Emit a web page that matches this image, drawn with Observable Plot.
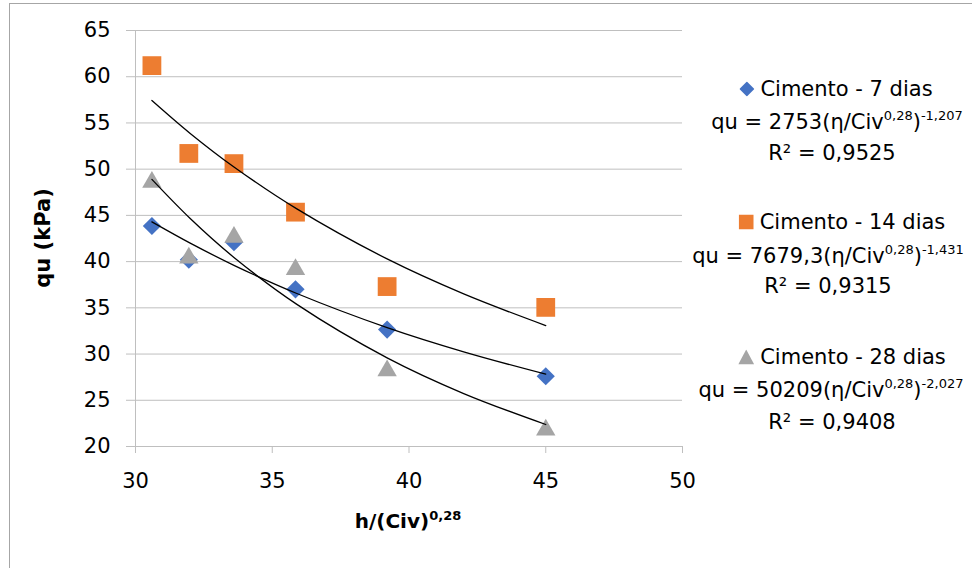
<!DOCTYPE html>
<html><head><meta charset="utf-8">
<script src="https://cdn.jsdelivr.net/npm/d3@7"></script>
<script src="https://cdn.jsdelivr.net/npm/@observablehq/plot@0.6"></script>
<style>
body{margin:0;background:#fff;font-family:"DejaVu Sans",sans-serif;}
#wrap{position:relative;width:972px;height:568px;overflow:hidden;background:#fff;}
#frame{position:absolute;left:9px;top:3px;width:1000px;height:600px;border:1px solid #a6a6a6;box-sizing:border-box;}
#chart{position:absolute;left:0;top:0;}
.lg{position:absolute;transform:translate(-50%,-50%);white-space:nowrap;font-size:21px;color:#000;line-height:1;}
.lg sup{font-size:13px;line-height:0;vertical-align:0.62em;}
.ttl{position:absolute;white-space:nowrap;font-weight:bold;font-size:20px;color:#000;line-height:1;}
.ttl sup{font-size:13px;line-height:0;vertical-align:0.62em;}
.mk{display:inline-block;vertical-align:-1px;margin-right:6px;}
</style>
</head><body>
<div id="wrap"><div id="frame"></div><div id="chart"></div></div>
<script>
// ---- data ----
const xValues = [30.6, 31.95, 33.6, 35.85, 39.2, 45.0];
const qu7  = [43.85, 40.2, 42.1, 37.0, 32.65, 27.6];
const qu14 = [61.2, 51.7, 50.6, 45.35, 37.3, 35.05];
const qu28 = [48.6, 40.4, 42.65, 39.15, 28.2, 21.8];
// trendline points
const fitX   = [30.6, 32, 33.6, 35.9, 39.2, 42, 45];
const fit7   = [44.3, 42.0, 39.6, 36.55, 32.86, 30.24, 27.82];
const fit14  = [57.43, 53.87, 50.24, 45.70, 40.29, 36.51, 33.08];
const fit28  = [48.89, 44.66, 40.45, 35.37, 29.59, 25.73, 22.38];
const seriesNames = ["Cimento - 7 dias", "Cimento - 14 dias", "Cimento - 28 dias"];
const equations = [
  ["2753", "-1,207", "0,9525"],
  ["7679,3", "-1,431", "0,9315"],
  ["50209", "-2,027", "0,9408"]
];
const xTicks = [30, 35, 40, 45, 50];
const yTicks = [20, 25, 30, 35, 40, 45, 50, 55, 60, 65];
const colors = ["#4472C4", "#ED7D31", "#A5A5A5"];

const pts = (ys, s) => xValues.map((x, i) => ({x, y: ys[i], s}));
const fit = (ys, s) => fitX.map((x, i) => ({x, y: ys[i], s}));
const grid = "#bfbfbf";

const plot = Plot.plot({
  width: 972, height: 568,
  marginLeft: 135, marginRight: 290, marginTop: 30, marginBottom: 122,
  style: {fontFamily: "DejaVu Sans", fontSize: "21px", color: "#000", background: "transparent", overflow: "visible"},
  x: {domain: [30, 50]},
  y: {domain: [20, 65]},
  marks: [
    Plot.ruleY(yTicks, {stroke: grid, strokeWidth: 1}),
    Plot.ruleX([30], {stroke: grid, strokeWidth: 1}),
    Plot.axisY({ticks: yTicks, tickSize: 9, tickPadding: 16, stroke: grid, label: null, fill: "#000", fontSize: 21}),
    Plot.axisX({ticks: xTicks, tickSize: 7, tickPadding: 20, stroke: grid, label: null, fill: "#000", fontSize: 21}),
    Plot.dot(pts(qu7, 0), {x: "x", y: "y", symbol: "diamond2", r: 8.2, fill: colors[0], stroke: null}),
    Plot.dot(pts(qu14, 1), {x: "x", y: "y", symbol: "square", r: 10.6, fill: colors[1], stroke: null}),
    Plot.dot(pts(qu28, 2), {x: "x", y: "y", symbol: "triangle", r: 7.2, fill: colors[2], stroke: null}),
    Plot.line(fit(fit14, 1), {x: "x", y: "y", stroke: "#000", strokeWidth: 1.3, curve: "catmull-rom"}),
    Plot.line(fit(fit7, 0), {x: "x", y: "y", stroke: "#000", strokeWidth: 1.3, curve: "catmull-rom"}),
    Plot.line(fit(fit28, 2), {x: "x", y: "y", stroke: "#000", strokeWidth: 1.3, curve: "catmull-rom"})
  ]
});
document.getElementById("chart").appendChild(plot);

const wrap = document.getElementById("wrap");
function add(html, cls, left, top, extra) {
  const d = document.createElement("div");
  d.className = cls; d.innerHTML = html;
  d.style.left = left + "px"; d.style.top = top + "px";
  if (extra) Object.assign(d.style, extra);
  wrap.appendChild(d);
}
const markers = [
  `<svg class="mk" width="15" height="15"><polygon points="7.5,0 15,7.5 7.5,15 0,7.5" fill="${colors[0]}"/></svg>`,
  `<svg class="mk" width="15" height="15"><rect x="0" y="0" width="15" height="15" fill="${colors[1]}"/></svg>`,
  `<svg class="mk" width="16" height="15"><polygon points="8,0 16,15 0,15" fill="${colors[2]}"/></svg>`
];
const rowY = [[89, 122, 153], [222, 256, 286], [357, 390, 422]];
const rowX = [[836, 837, 832], [842, 828, 828], [842, 831, 832]];
seriesNames.forEach((n, i) => {
  add(markers[i] + n, "lg", rowX[i][0], rowY[i][0]);
  add(`qu = ${equations[i][0]}(η/Civ<sup>0,28</sup>)<sup>${equations[i][1]}</sup>`, "lg", rowX[i][1], rowY[i][1]);
  add(`R² = ${equations[i][2]}`, "lg", rowX[i][2], rowY[i][2]);
});
add(`h/(Civ)<sup>0,28</sup>`, "ttl", 408, 521, {transform: "translate(-50%,-50%)"});
add(`qu (kPa)`, "ttl", 43, 238, {transform: "translate(-50%,-50%) rotate(-90deg)", fontSize: "21px"});
</script>
</body></html>
